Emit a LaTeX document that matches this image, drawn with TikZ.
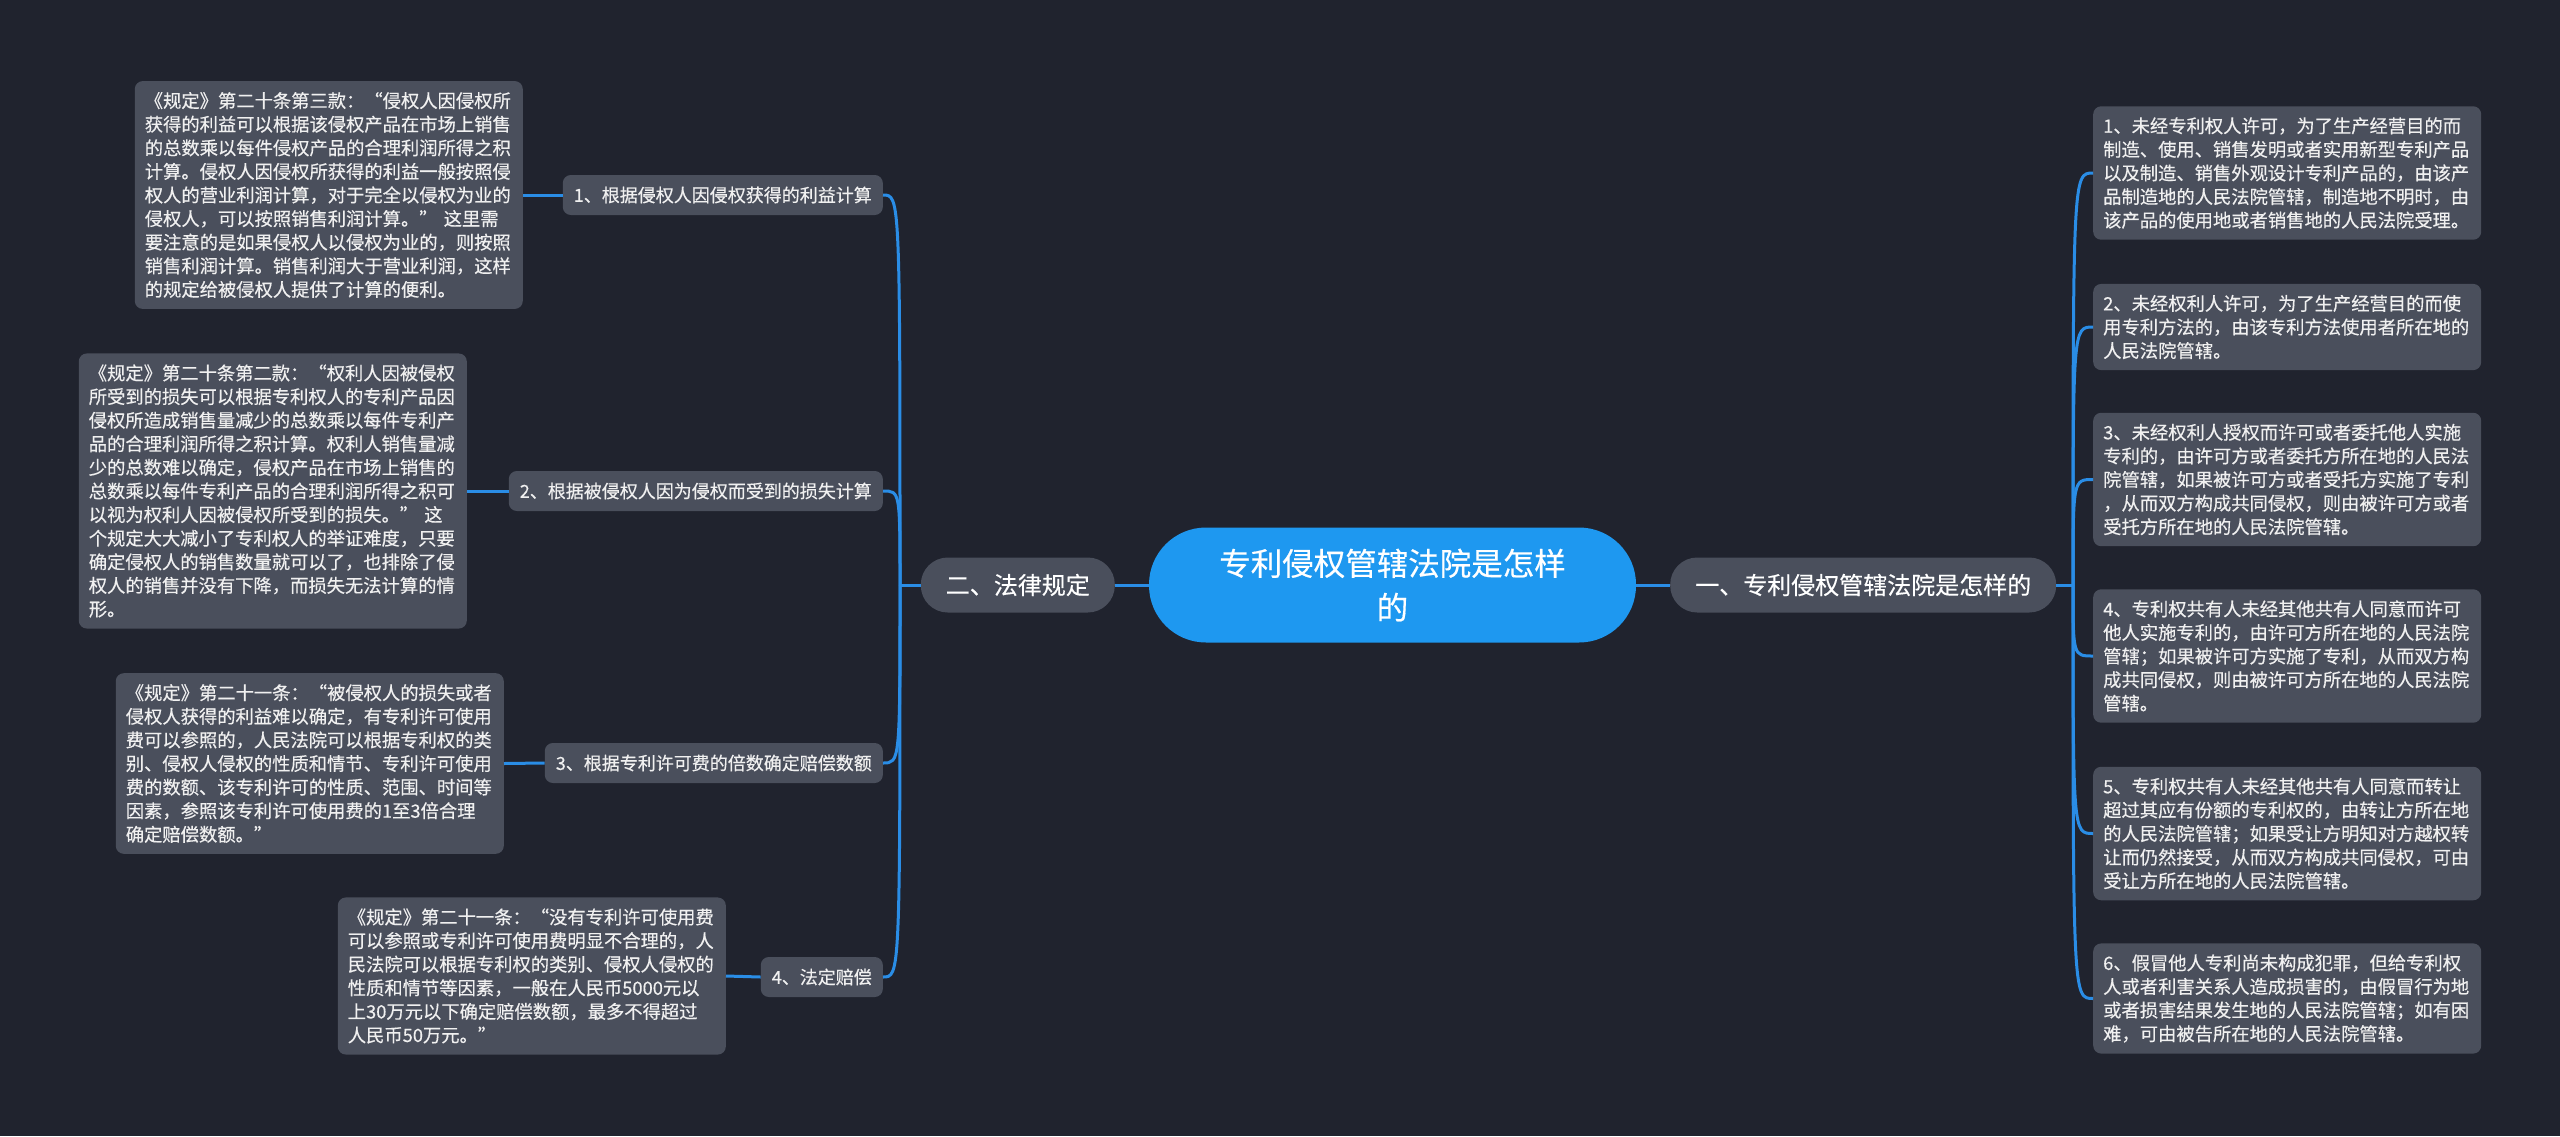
\documentclass[tikz,border=0pt]{standalone}
\usepackage{fontspec}
\setmainfont{Noto Sans CJK SC}[FakeBold=0.4]
\definecolor{bg}{HTML}{20232E}
\definecolor{nodegray}{HTML}{4A4F5C}
\definecolor{mainblue}{HTML}{1E98F0}
\definecolor{linkblue}{HTML}{2A8DE6}
\definecolor{txt}{HTML}{F0F0F0}
\begin{document}
\begin{tikzpicture}[x=1pt,y=-1pt,
  link/.style={draw=linkblue,line width=3pt},
  leaf/.style={fill=nodegray,rounded corners=8pt,text=txt,align=left,text width=368pt,inner xsep=10pt,inner ysep=11pt,font=\fontsize{18.3}{23.6}\selectfont},
  sub/.style={fill=nodegray,rounded corners=8pt,text=txt,inner xsep=11pt,inner ysep=0pt,minimum height=40pt,font=\fontsize{18}{22}\selectfont},
  mainnode/.style={fill=nodegray,rounded corners=27pt,text=white,inner xsep=25pt,inner ysep=0pt,minimum height=55pt,font=\fontsize{24}{28}\selectfont},
  root/.style={fill=mainblue,rounded corners=57pt,text=white,minimum width=487pt,minimum height=115pt,align=center,font=\fontsize{31.5}{44}\selectfont}
]
\fill[bg] (0,0) rectangle (2560,1136);
\useasboundingbox (0,0) rectangle (2560,1136);

% coordinates of spines
\coordinate (rs) at (2073,585);
\coordinate (ls) at (900,585);

% root and main branches
\node[root] (root) at (1392.5,585) {专利侵权管辖法院是怎样\\的};
\node[mainnode,anchor=west] (rmain) at (1670,585) {一、专利侵权管辖法院是怎样的};
\node[mainnode,anchor=east] (lmain) at (1115,585) {二、法律规定};

% left sub nodes
\node[sub,anchor=east] (s1) at (883,195) {1、根据侵权人因侵权获得的利益计算};
\node[sub,anchor=east] (s2) at (883,491) {2、根据被侵权人因为侵权而受到的损失计算};
\node[sub,anchor=east] (s3) at (883,763) {3、根据专利许可费的倍数确定赔偿数额};
\node[sub,anchor=east] (s4) at (883,977) {4、法定赔偿};

% left leaves
\node[leaf,anchor=east] (l1) at (523,195) {《规定》第二十条第三款：“侵权人因侵权所\\
获得的利益可以根据该侵权产品在市场上销售\\
的总数乘以每件侵权产品的合理利润所得之积\\
计算。侵权人因侵权所获得的利益一般按照侵\\
权人的营业利润计算，对于完全以侵权为业的\\
侵权人，可以按照销售利润计算。” 这里需\\
要注意的是如果侵权人以侵权为业的，则按照\\
销售利润计算。销售利润大于营业利润，这样\\
的规定给被侵权人提供了计算的便利。};

\node[leaf,anchor=east] (l2) at (467,491) {《规定》第二十条第二款：“权利人因被侵权\\
所受到的损失可以根据专利权人的专利产品因\\
侵权所造成销售量减少的总数乘以每件专利产\\
品的合理利润所得之积计算。权利人销售量减\\
少的总数难以确定，侵权产品在市场上销售的\\
总数乘以每件专利产品的合理利润所得之积可\\
以视为权利人因被侵权所受到的损失。” 这\\
个规定大大减小了专利权人的举证难度，只要\\
确定侵权人的销售数量就可以了，也排除了侵\\
权人的销售并没有下降，而损失无法计算的情\\
形。};

\node[leaf,anchor=east] (l3) at (504,763.5) {《规定》第二十一条：“被侵权人的损失或者\\
侵权人获得的利益难以确定，有专利许可使用\\
费可以参照的，人民法院可以根据专利权的类\\
别、侵权人侵权的性质和情节、专利许可使用\\
费的数额、该专利许可的性质、范围、时间等\\
因素，参照该专利许可使用费的1至3倍合理\\
确定赔偿数额。”};

\node[leaf,anchor=east] (l4) at (726,976) {《规定》第二十一条：“没有专利许可使用费\\
可以参照或专利许可使用费明显不合理的，人\\
民法院可以根据专利权的类别、侵权人侵权的\\
性质和情节等因素，一般在人民币5000元以\\
上30万元以下确定赔偿数额，最多不得超过\\
人民币50万元。”};

% right leaves
\node[leaf,anchor=west] (r1) at (2093,173) {1、未经专利权人许可，为了生产经营目的而\\
制造、使用、销售发明或者实用新型专利产品\\
以及制造、销售外观设计专利产品的，由该产\\
品制造地的人民法院管辖，制造地不明时，由\\
该产品的使用地或者销售地的人民法院受理。};

\node[leaf,anchor=west] (r2) at (2093,327) {2、未经权利人许可，为了生产经营目的而使\\
用专利方法的，由该专利方法使用者所在地的\\
人民法院管辖。};

\node[leaf,anchor=west] (r3) at (2093,479.5) {3、未经权利人授权而许可或者委托他人实施\\
专利的，由许可方或者委托方所在地的人民法\\
院管辖，如果被许可方或者受托方实施了专利\\
，从而双方构成共同侵权，则由被许可方或者\\
受托方所在地的人民法院管辖。};

\node[leaf,anchor=west] (r4) at (2093,656) {4、专利权共有人未经其他共有人同意而许可\\
他人实施专利的，由许可方所在地的人民法院\\
管辖；如果被许可方实施了专利，从而双方构\\
成共同侵权，则由被许可方所在地的人民法院\\
管辖。};

\node[leaf,anchor=west] (r5) at (2093,833.5) {5、专利权共有人未经其他共有人同意而转让\\
超过其应有份额的专利权的，由转让方所在地\\
的人民法院管辖；如果受让方明知对方越权转\\
让而仍然接受，从而双方构成共同侵权，可由\\
受让方所在地的人民法院管辖。};

\node[leaf,anchor=west] (r6) at (2093,998.5) {6、假冒他人专利尚未构成犯罪，但给专利权\\
人或者利害关系人造成损害的，由假冒行为地\\
或者损害结果发生地的人民法院管辖；如有困\\
难，可由被告所在地的人民法院管辖。};

% connectors
\draw[link] (root.east) -- (rmain.west);
\draw[link] (root.west) -- (lmain.east);
\draw[link] (rmain.east) -- (rs);
\draw[link] (lmain.west) -- (ls);
\foreach \n in {r1,r2,r3,r4,r5,r6}
  \draw[link] (rs) .. controls (rs |- \n.west) and (rs |- \n.west) .. (\n.west);
\foreach \n in {s1,s2,s3,s4}
  \draw[link] (ls) .. controls (ls |- \n.east) and (ls |- \n.east) .. (\n.east);
\draw[link] (s1.west) -- (l1.east);
\draw[link] (s2.west) -- (l2.east);
\draw[link] (s3.west) -- (l3.east);
\draw[link] (s4.west) -- (l4.east);
\end{tikzpicture}
\end{document}
